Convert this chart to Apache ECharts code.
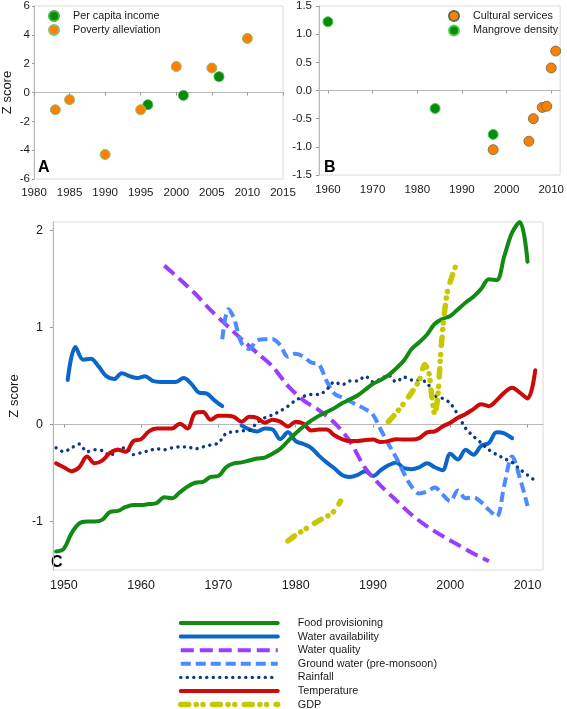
<!DOCTYPE html>
<html><head><meta charset="utf-8">
<script src="https://cdn.jsdelivr.net/npm/echarts@6/dist/echarts.min.js"></script>
<style>html,body{margin:0;padding:0;background:#fff}#c{width:567px;height:709px}</style>
</head><body><div id="c"></div>
<script>
// ---------- Panel A ----------
const incomeYears = [1996, 2001, 2006];
const incomeValues = [-0.85, -0.2, 1.1];
const povertyYears = [1983, 1985, 1990, 1995, 2000, 2005, 2010];
const povertyValues = [-1.2, -0.5, -4.3, -1.2, 1.8, 1.7, 3.75];
// ---------- Panel B ----------
const culturalYears = [1997, 2005, 2006, 2008, 2009, 2010, 2011];
const culturalValues = [-1.05, -0.9, -0.5, -0.3, -0.28, 0.4, 0.7];
const mangroveYears = [1960, 1984, 1997];
const mangroveValues = [1.22, -0.32, -0.78];
// ---------- Panel C ----------
const yearsAnnual = [1949,1950,1951,1952,1953,1954,1955,1956,1957,1958,
  1959,1960,1961,1962,1963,1964,1965,1966,1967,1968,
  1969,1970,1971,1972,1973,1974,1975,1976,1977,1978,
  1979,1980,1981,1982,1983,1984,1985,1986,1987,1988,
  1989,1990,1991,1992,1993,1994,1995,1996,1997,1998,
  1999,2000,2001,2002,2003,2004,2005,2006,2007,2008,
  2009,2010,2011];
const foodValues = [-1.31,-1.28,-1.12,-1.02,-1.00,-1.00,-0.98,-0.90,-0.89,-0.85,
  -0.83,-0.83,-0.82,-0.81,-0.75,-0.76,-0.70,-0.64,-0.60,-0.59,
  -0.54,-0.53,-0.44,-0.40,-0.39,-0.37,-0.35,-0.34,-0.30,-0.25,
  -0.17,-0.09,-0.02,0.04,0.09,0.13,0.17,0.22,0.26,0.30,
  0.36,0.42,0.46,0.51,0.58,0.66,0.78,0.85,0.93,1.04,
  1.09,1.12,1.19,1.26,1.32,1.40,1.50,1.49,1.74,1.98,2.09,1.68];
const rainValues = [-0.24,-0.28,-0.24,-0.20,-0.28,-0.26,-0.27,-0.32,-0.25,-0.24,
  -0.31,-0.29,-0.27,-0.25,-0.26,-0.24,-0.23,-0.23,-0.25,-0.23,
  -0.21,-0.19,-0.09,-0.075,-0.065,-0.06,0.02,0.07,0.10,0.14,
  0.19,0.25,0.29,0.31,0.31,0.36,0.44,0.41,0.45,0.45,
  0.50,0.44,0.47,0.51,0.44,0.49,0.46,0.46,0.43,0.30,
  0.27,0.22,0.10,-0.04,-0.12,-0.19,-0.26,-0.31,-0.35,-0.39,
  -0.46,-0.52,-0.58];
const tempValues = [-0.40,-0.44,-0.48,-0.44,-0.33,-0.40,-0.37,-0.29,-0.26,-0.28,
  -0.17,-0.15,-0.07,-0.04,-0.04,-0.04,0.01,-0.04,0.12,0.13,
  0.05,0.09,0.09,0.08,0.03,0.08,0.07,0.02,0.05,0.03,
  -0.02,0.03,0.01,-0.06,-0.05,-0.05,-0.11,-0.15,-0.17,-0.17,
  -0.16,-0.155,-0.18,-0.17,-0.15,-0.155,-0.155,-0.14,-0.08,-0.07,
  -0.02,0.02,0.07,0.11,0.16,0.21,0.19,0.25,0.33,0.38,
  0.33,0.27,0.56];
const waterAvail1Years = [1950.5,1951.5,1952.5,1953.5,1954.5,1955.5,1956.5,1957.5,1958.5,1959.5,
  1960.5,1961.5,1962.5,1963.5,1964.5,1965.5,1966.5,1967.5,1968.5,1969.5,1970.5];
const waterAvail1Values = [0.46,0.80,0.67,0.68,0.60,0.50,0.47,0.53,0.50,0.48,
  0.50,0.45,0.44,0.44,0.44,0.48,0.42,0.33,0.32,0.25,0.19];
const waterAvail2Years = [1973,1974,1975,1976,1977,1978,1979,1980,1981,1982,
  1983,1984,1985,1986,1987,1988,1989,1990,1991,1992,
  1993,1994,1995,1996,1997,1998,1999,2000,2001,2002,
  2003,2004,2005,2006,2007,2008];
const waterAvail2Values = [-0.01,-0.05,-0.07,-0.04,-0.05,-0.15,-0.08,-0.17,-0.20,-0.24,
  -0.32,-0.39,-0.45,-0.52,-0.54,-0.52,-0.48,-0.53,-0.47,-0.42,
  -0.39,-0.45,-0.46,-0.44,-0.40,-0.44,-0.47,-0.30,-0.36,-0.26,
  -0.31,-0.22,-0.19,-0.08,-0.09,-0.14];
const waterQualYears = [1963,1965,1967,1969,1971,1973,1975,1977,1979,1981,1983,
  1985,1987,1989,1991,1993,1995,1997,1999,2001,2003,2005];
const waterQualValues = [1.64,1.50,1.35,1.18,1.03,0.88,0.74,0.60,0.40,0.25,0.15,
  0.02,-0.17,-0.45,-0.63,-0.78,-0.93,-1.05,-1.15,-1.24,-1.33,-1.41];
const groundYears = [1970.5,1971.3,1972,1973,1974,1975,1976,1977,1978,1979,
  1980,1981,1982,1983,1984,1985,1986,1987,1988,1989,
  1990,1991,1992,1993,1994,1995,1996,1997,1998,1999,
  2000,2001,2002,2003,2004,2005,2006,2007,2008,2009,2010];
const groundValues = [0.88,1.19,1.10,0.84,0.78,0.87,0.88,0.88,0.82,0.70,
  0.73,0.70,0.64,0.62,0.45,0.32,0.28,0.24,0.20,0.16,
  0.10,-0.05,-0.20,-0.34,-0.50,-0.64,-0.71,-0.69,-0.65,-0.72,
  -0.79,-0.68,-0.76,-0.75,-0.80,-0.88,-0.95,-0.62,-0.33,-0.55,-0.84];
const gdp1Years = [1979,1980,1981,1982,1983,1984,1985,1985.8];
const gdp1Values = [-1.20,-1.14,-1.09,-1.04,-0.99,-0.95,-0.89,-0.79];
const gdp2Years = [1992,1993,1994,1995,1996,1996.7,1997.2,1997.6,1998,1998.4,1998.8,1999.2,1999.6,2000.1,2000.9];
const gdp2Values = [0.03,0.12,0.22,0.33,0.46,0.62,0.55,0.30,0.10,0.30,0.78,1.12,1.36,1.50,1.68];

const ticksB = [1960,1970,1980,1990,2000,2010];
const ticksCx = [1950,1960,1970,1980,1990,2000,2010];
const ticksCy = [-1,0,1,2];

function zip(xs, ys) { return ys.map((y, i) => [xs[i], y]); }
const plain = v => String(v);

const FONT = "'Liberation Sans', Arial, sans-serif";
const GREEN = '#0A8A0A', ORANGE = '#FF8000';
const C = {
  food: '#138A13', wa: '#0A66C8', wq: '#9B3DFF', gw: '#4A8CFF',
  rain: '#0D3A80', temp: '#CC0A0A', gdp: '#C8C800'
};
const LS = {
  food: {color: C.food, width: 4, type: 'solid', cap: 'round'},
  wa: {color: C.wa, width: 4, type: 'solid', cap: 'round'},
  wq: {color: C.wq, width: 4, type: [13, 6], cap: 'butt'},
  gw: {color: C.gw, width: 4, type: [10, 5], cap: 'butt'},
  rain: {color: C.rain, width: 3.4, type: [0.1, 6.4], cap: 'round'},
  temp: {color: C.temp, width: 4, type: 'solid', cap: 'round'},
  gdp: {color: C.gdp, width: 5.5, type: [8, 7.5, 0.1, 6.6, 0.1, 9.5], cap: 'round'}
};

const axisLineStyle = {lineStyle: {color: '#b8b8b8', width: 1}};
const tickStyle = {lineStyle: {color: '#9a9a9a'}};
const labelBase = {color: '#1a1a1a', fontFamily: FONT};
const hiddenSymbol = {color: 'rgba(0,0,0,0)', borderWidth: 0, opacity: 0};

function lineSeries(name, xs, ys, ls, smooth) {
  return {
    type: 'line', name: name, xAxisIndex: 2, yAxisIndex: 2,
    data: zip(xs, ys), symbol: 'none', showSymbol: false,
    smooth: smooth, lineStyle: ls, silent: true, z: 3
  };
}

const chart = echarts.init(document.getElementById('c'), null, {renderer: 'canvas'});
chart.setOption({
  animation: false,
  backgroundColor: '#fff',
  textStyle: {fontFamily: FONT},
  grid: [
    {left: 33, top: 4.5, width: 250, height: 174.5, show: true, borderColor: '#dadada', borderWidth: 1},
    {left: 319, top: 5.7, width: 244, height: 169.3, show: true, borderColor: '#dadada', borderWidth: 1},
    {left: 45, top: 222, width: 498, height: 348, show: true, borderColor: '#dadada', borderWidth: 1}
  ],
  xAxis: [
    {type: 'value', gridIndex: 0, min: 1980, max: 2015, interval: 5,
     splitLine: {show: false}, axisLine: axisLineStyle,
     axisTick: Object.assign({length: 3}, tickStyle),
     axisLabel: Object.assign({fontSize: 11.5, margin: 8, formatter: plain}, labelBase)},
    {type: 'value', gridIndex: 1, min: 1958, max: 2012,
     splitLine: {show: false}, axisLine: axisLineStyle,
     axisTick: Object.assign({length: 3, customValues: ticksB}, tickStyle),
     axisLabel: Object.assign({fontSize: 11.5, margin: 9, customValues: ticksB, formatter: plain}, labelBase)},
    {type: 'value', gridIndex: 2, min: 1948.6, max: 2012,
     splitLine: {show: false}, axisLine: axisLineStyle,
     axisTick: Object.assign({length: 3, customValues: ticksCx}, tickStyle),
     axisLabel: Object.assign({fontSize: 12.5, margin: 9, customValues: ticksCx, formatter: plain}, labelBase)}
  ],
  yAxis: [
    {type: 'value', gridIndex: 0, min: -6, max: 6, interval: 2,
     name: 'Z score', nameLocation: 'middle', nameGap: 20,
     nameTextStyle: {fontSize: 13, color: '#1a1a1a', fontFamily: FONT},
     splitLine: {show: false}, axisLine: Object.assign({show: true}, axisLineStyle),
     axisTick: Object.assign({show: true, length: 2}, tickStyle),
     axisLabel: Object.assign({fontSize: 11.5, margin: 4}, labelBase)},
    {type: 'value', gridIndex: 1, min: -1.5, max: 1.5, interval: 0.5,
     splitLine: {show: false}, axisLine: Object.assign({show: true}, axisLineStyle),
     axisTick: Object.assign({show: true, length: 3}, tickStyle),
     axisLabel: Object.assign({fontSize: 11.5, margin: 7, formatter: v => v.toFixed(1)}, labelBase)},
    {type: 'value', gridIndex: 2, min: -1.5, max: 2.09,
     name: 'Z score', nameLocation: 'middle', nameGap: 28,
     nameTextStyle: {fontSize: 13, color: '#1a1a1a', fontFamily: FONT},
     splitLine: {show: false}, axisLine: Object.assign({show: true}, axisLineStyle),
     axisTick: Object.assign({show: true, length: 3, customValues: ticksCy}, tickStyle),
     axisLabel: Object.assign({fontSize: 12.5, margin: 10, customValues: ticksCy}, labelBase)}
  ],
  legend: [
    {data: ['Per capita income', 'Poverty alleviation'], orient: 'vertical',
     left: 48, top: 9, padding: 0, itemWidth: 10, itemHeight: 10, itemGap: 0,
     selectedMode: false,
     textStyle: {fontSize: 10.8, color: '#1a1a1a', fontFamily: FONT, lineHeight: 14, padding: [0, 0, 0, 9]}},
    {data: ['Cultural services', 'Mangrove density'], orient: 'vertical',
     left: 448, top: 9, padding: 0, itemWidth: 10, itemHeight: 10, itemGap: 0.5,
     selectedMode: false,
     textStyle: {fontSize: 10.8, color: '#1a1a1a', fontFamily: FONT, lineHeight: 14, padding: [0, 0, 0, 9]}},
    {orient: 'vertical', left: 178, top: 617, height: 100, padding: 0,
     itemWidth: 97, itemHeight: 12, itemGap: 1.6,
     selectedMode: false, itemStyle: hiddenSymbol,
     textStyle: {fontSize: 10.8, color: '#1a1a1a', fontFamily: FONT, lineHeight: 12, padding: [0, 0, 0, 15]},
     data: [
       {name: 'Food provisioning', lineStyle: LS.food, itemStyle: hiddenSymbol},
       {name: 'Water availability', lineStyle: LS.wa, itemStyle: hiddenSymbol},
       {name: 'Water quality', lineStyle: LS.wq, itemStyle: hiddenSymbol},
       {name: 'Ground water (pre-monsoon)', lineStyle: LS.gw, itemStyle: hiddenSymbol},
       {name: 'Rainfall', lineStyle: LS.rain, itemStyle: hiddenSymbol},
       {name: 'Temperature', lineStyle: LS.temp, itemStyle: hiddenSymbol},
       {name: 'GDP', lineStyle: LS.gdp, itemStyle: hiddenSymbol}
     ]}
  ],
  graphic: [
    {type: 'text', left: 38, top: 160, style: {text: 'A', font: "bold 16px 'Liberation Sans', Arial", fill: '#000'}},
    {type: 'text', left: 324, top: 160, style: {text: 'B', font: "bold 16px 'Liberation Sans', Arial", fill: '#000'}},
    {type: 'text', left: 51, top: 555, style: {text: 'C', font: "bold 16px 'Liberation Sans', Arial", fill: '#000'}}
  ],
  series: [
    {type: 'scatter', name: 'Per capita income', xAxisIndex: 0, yAxisIndex: 0,
     data: zip(incomeYears, incomeValues), symbol: 'circle', symbolSize: 10,
     itemStyle: {color: GREEN, borderColor: '#3fb83f', borderWidth: 0.8, opacity: 1}},
    {type: 'scatter', name: 'Poverty alleviation', xAxisIndex: 0, yAxisIndex: 0,
     data: zip(povertyYears, povertyValues), symbol: 'circle', symbolSize: 10,
     itemStyle: {color: ORANGE, borderColor: '#8cc070', borderWidth: 1, opacity: 1}},
    {type: 'scatter', name: 'Cultural services', xAxisIndex: 1, yAxisIndex: 1,
     data: zip(culturalYears, culturalValues), symbol: 'circle', symbolSize: 10,
     itemStyle: {color: ORANGE, borderColor: '#5b6b4e', borderWidth: 0.8, opacity: 1}},
    {type: 'scatter', name: 'Mangrove density', xAxisIndex: 1, yAxisIndex: 1,
     data: zip(mangroveYears, mangroveValues), symbol: 'circle', symbolSize: 10,
     itemStyle: {color: GREEN, borderColor: '#4fd04f', borderWidth: 1, opacity: 1}},
    lineSeries('Water availability', waterAvail1Years, waterAvail1Values, LS.wa, 0.35),
    lineSeries('Water availability', waterAvail2Years, waterAvail2Values, LS.wa, 0.35),
    lineSeries('Water quality', waterQualYears, waterQualValues, LS.wq, 0.3),
    lineSeries('Ground water (pre-monsoon)', groundYears, groundValues, LS.gw, 0.35),
    lineSeries('Rainfall', yearsAnnual, rainValues, LS.rain, 0.3),
    lineSeries('Temperature', yearsAnnual, tempValues, LS.temp, 0.35),
    lineSeries('Food provisioning', yearsAnnual, foodValues, LS.food, 0.35),
    lineSeries('GDP', gdp1Years, gdp1Values, LS.gdp, 0.3),
    lineSeries('GDP', gdp2Years, gdp2Values, LS.gdp, 0.25)
  ]
});
</script></body></html>
